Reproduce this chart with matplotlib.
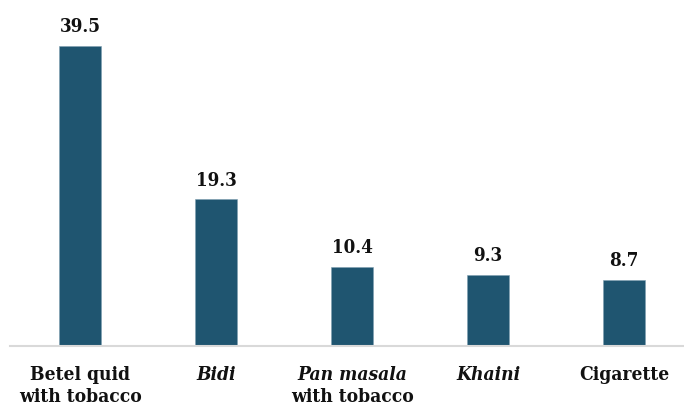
import matplotlib.pyplot as plt

# Data
categories = ["Betel quid\nwith tobacco", "Bidi", "Pan masala\nwith tobacco", "Khaini", "Cigarette"]
italic_flags = [False, True, True, True, False]
values = [39.5, 19.3, 10.4, 9.3, 8.7]

plt.rcParams["font.family"] = ["DejaVu Serif"]

fig = plt.figure(figsize=(6.84, 4.09), dpi=100)
ax = fig.add_axes([10 / 684, 63 / 409, 674 / 684, 346 / 409])

x = range(len(categories))
bars = ax.bar(x, values, width=0.31, color="#1f5570", edgecolor="#7f9fb0", linewidth=0.4)

for xi, v in zip(x, values):
    ax.text(xi, v + 1.3, f"{v}", ha="center", va="bottom", fontsize=13.5,
            fontweight="bold", fontstretch="condensed", color="#111111")

ax.set_xlim(-0.515, 4.441)
ax.set_ylim(0, 45.56)

ax.set_xticks(list(x))
ax.set_xticklabels([])
for xi, label, it in zip(x, categories, italic_flags):
    if "\n" in label:
        l1, l2 = label.split("\n")
    else:
        l1, l2 = label, None
    # first line: "Pan masala" italic, second line upright
    ax.text(xi, -3.8, l1, ha="center", va="center", fontsize=13.8, fontweight="bold",
            fontstyle="italic" if it else "normal", fontstretch="condensed",
            color="#111111", clip_on=False)
    if l2:
        ax.text(xi, -6.7, l2, ha="center", va="center", fontsize=13.8, fontweight="bold",
                fontstretch="condensed", color="#111111", clip_on=False)

ax.tick_params(axis="x", length=0)
ax.set_yticks([])
for side in ["top", "right", "left"]:
    ax.spines[side].set_visible(False)
ax.spines["bottom"].set_color("#d9d9d9")
ax.spines["bottom"].set_linewidth(1.5)

fig.savefig("out.png", dpi=100)
